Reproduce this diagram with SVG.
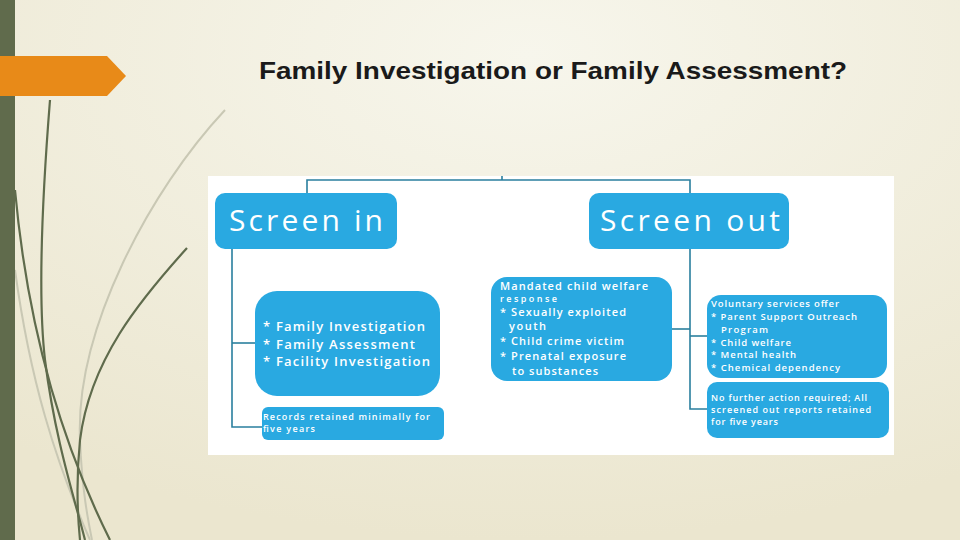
<svg xmlns="http://www.w3.org/2000/svg" width="960" height="540" viewBox="0 0 960 540">
<defs>
<radialGradient id="bg" cx="0.55" cy="0.1" r="0.9">
<stop offset="0" stop-color="#f7f6ec"/>
<stop offset="1" stop-color="#ebe6cf"/>
</radialGradient>
<style>
.box{fill:#29a9e1}
.ln{stroke:#2a7f9e;stroke-width:1.6;fill:none}
.big{font-family:"Open Sans","DejaVu Sans",sans-serif;font-size:30px;fill:#ffffff}
.t{font-family:"Open Sans","DejaVu Sans",sans-serif;font-size:9px;fill:#ffffff;font-weight:600}
.tv{font-family:"Open Sans","DejaVu Sans",sans-serif;font-size:9.5px;fill:#ffffff;font-weight:600}
.tb{font-family:"Open Sans","DejaVu Sans",sans-serif;font-size:11px;fill:#ffffff;font-weight:600}
.tm{font-family:"Open Sans","DejaVu Sans",sans-serif;font-size:13px;fill:#ffffff;font-weight:600}
.dk{stroke:#5f6b4c;fill:none;stroke-width:2.2}
.lt{stroke:#c9c8b4;fill:none;stroke-width:2}
</style>
</defs>
<rect width="960" height="540" fill="url(#bg)"/>
<g id="decor">
<path class="lt" d="M225,110 C150,190 75,330 80,440 C82,490 88,520 92,540"/>
<path class="lt" d="M15,270 C30,380 55,460 90,540"/>
<path class="dk" d="M50,100 C42,200 38,300 45,360 C55,440 75,500 85,540"/>
<path class="dk" d="M15,190 C25,300 50,420 110,540"/>
<path class="dk" d="M187,248 C140,300 90,360 80,440 C76,480 78,520 80,540"/>
<rect x="0" y="0" width="15" height="540" fill="#606b4c"/>
<polygon points="0,56 107,56 126,76 107,96 0,96" fill="#e88a18"/>
</g>
<text x="259" y="79" font-family="Liberation Sans, Arial, sans-serif" font-size="24" font-weight="bold" fill="#1a1a1a" textLength="588" lengthAdjust="spacingAndGlyphs">Family Investigation or Family Assessment?</text>
<rect x="208" y="176" width="686" height="279" fill="#ffffff"/>
<g id="connectors">
<path class="ln" d="M307,193 V180 H690 V193"/>
<path class="ln" d="M502,176 V180"/>
<path class="ln" d="M232,249 V427 H262"/>
<path class="ln" d="M232,343 H255"/>
<path class="ln" d="M690,249 V409 H707"/>
<path class="ln" d="M672,329 H690"/>
<path class="ln" d="M690,336 H707"/>
</g>
<g id="screen-in">
<rect class="box" x="215" y="193" width="182" height="56" rx="10"/>
<text class="big" x="229" y="231" textLength="154">Screen in</text>
</g>
<g id="screen-out">
<rect class="box" x="589" y="193" width="200" height="56" rx="10"/>
<text class="big" x="600" y="231" textLength="180">Screen out</text>
</g>
<g id="investigations">
<rect class="box" x="255" y="291" width="185" height="105" rx="22"/>
<text class="tm" x="263" y="331" textLength="162">* Family Investigation</text>
<text class="tm" x="263" y="349" textLength="152">* Family Assessment</text>
<text class="tm" x="263" y="366" textLength="167">* Facility  Investigation</text>
</g>
<g id="records">
<rect class="box" x="262" y="407" width="182" height="33" rx="6"/>
<text class="t" x="263" y="420" textLength="167">Records retained minimally for</text>
<text class="t" x="263" y="432" textLength="52">five years</text>
</g>
<g id="mandated">
<rect class="box" x="491" y="277" width="181" height="104" rx="16"/>
<text class="tb" x="500" y="290" textLength="148">Mandated child welfare</text>
<text class="t" x="500" y="302" textLength="57">response</text>
<text class="tb" x="500" y="316" textLength="126">* Sexually exploited</text>
<text class="tb" x="509" y="330" textLength="37">youth</text>
<text class="tb" x="500" y="345" textLength="124">* Child crime victim</text>
<text class="tb" x="500" y="360" textLength="126">* Prenatal exposure</text>
<text class="tb" x="512" y="375" textLength="86">to substances</text>
</g>
<g id="voluntary">
<rect class="box" x="707" y="295" width="180" height="83" rx="14"/>
<text class="tv" x="711" y="307" textLength="128">Voluntary services offer</text>
<text class="tv" x="711" y="320" textLength="146">* Parent Support Outreach</text>
<text class="tv" x="721" y="333" textLength="47">Program</text>
<text class="tv" x="711" y="346" textLength="80">* Child welfare</text>
<text class="tv" x="711" y="358" textLength="85">* Mental health</text>
<text class="tv" x="711" y="371" textLength="129">* Chemical dependency</text>
</g>
<g id="no-further">
<rect class="box" x="707" y="382" width="182" height="56" rx="10"/>
<text class="t" x="711" y="401" textLength="156">No further action required; All</text>
<text class="t" x="711" y="413" textLength="160">screened out reports retained</text>
<text class="t" x="711" y="425" textLength="67">for five years</text>
</g>
</svg>
